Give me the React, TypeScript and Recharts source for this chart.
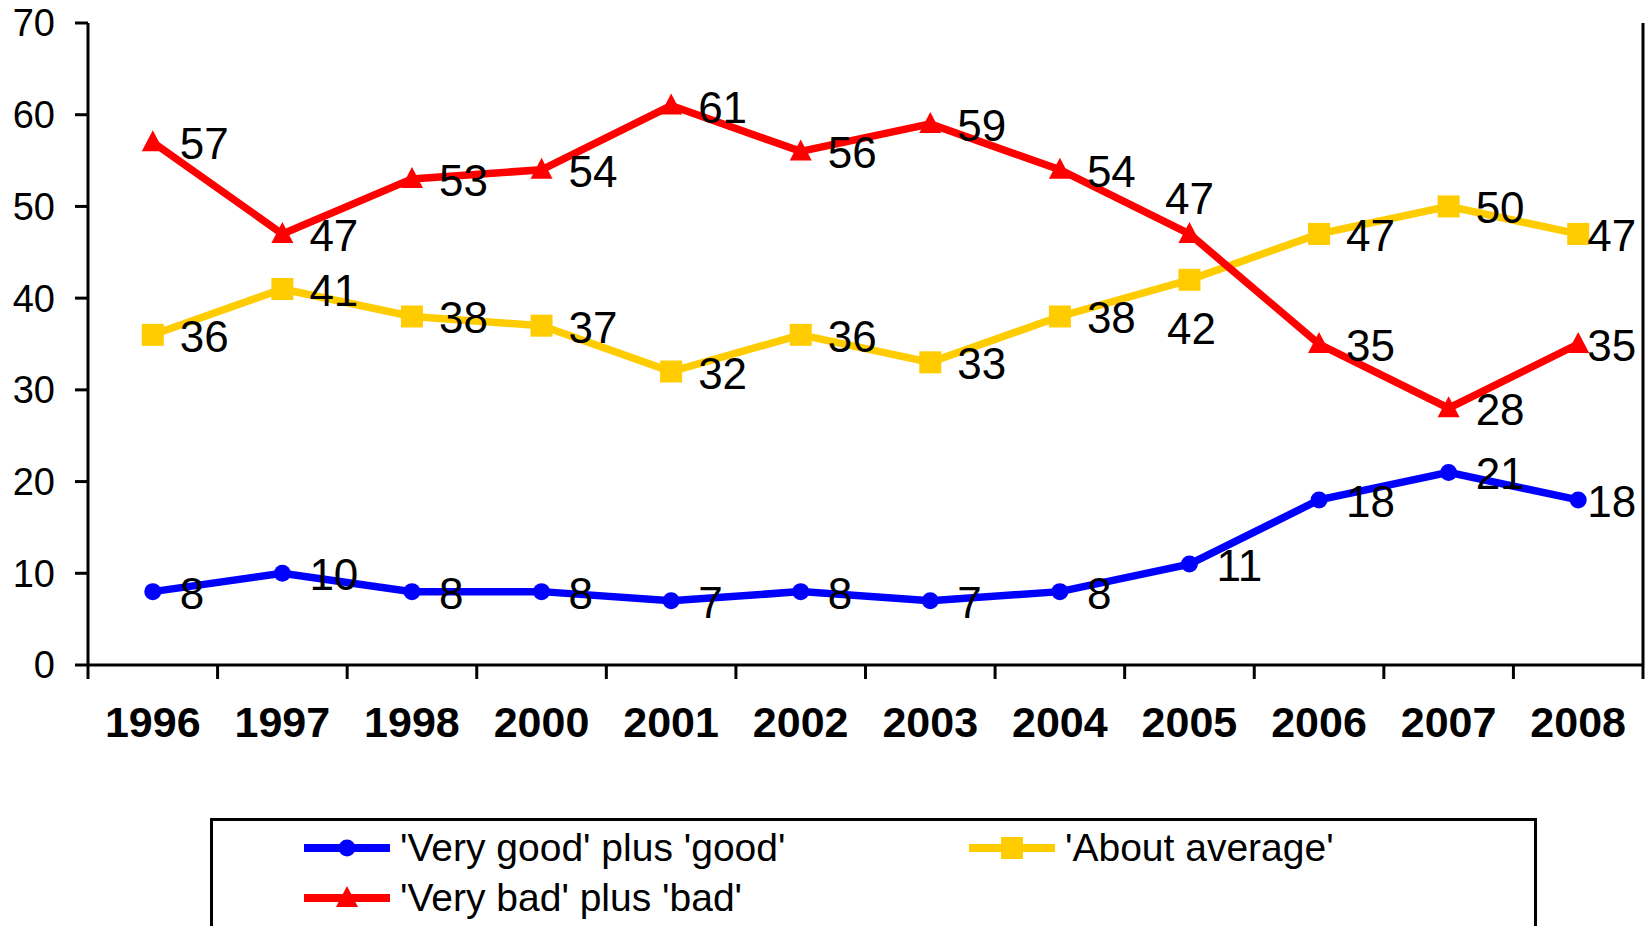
import { LabelList, Legend, Line, LineChart, XAxis, YAxis } from "recharts";

const years = ["1996", "1997", "1998", "2000", "2001", "2002", "2003", "2004", "2005", "2006", "2007", "2008"];
const goodShare = [8, 10, 8, 8, 7, 8, 7, 8, 11, 18, 21, 18];
const averageShare = [36, 41, 38, 37, 32, 36, 33, 38, 42, 47, 50, 47];
const badShare = [57, 47, 53, 54, 61, 56, 59, 54, 47, 35, 28, 35];
const yTicks = [0, 10, 20, 30, 40, 50, 60, 70];

const FONT = "'Liberation Sans', Arial, sans-serif";

const data = years.map((year, i) => ({
  year,
  good: goodShare[i],
  average: averageShare[i],
  bad: badShare[i],
}));

type Shape = "circle" | "square" | "triangle";

const series: { key: string; name: string; color: string; shape: Shape }[] = [
  { key: "good", name: "'Very good' plus 'good'", color: "#0000FF", shape: "circle" },
  { key: "average", name: "'About average'", color: "#FFCC00", shape: "square" },
  { key: "bad", name: "'Very bad' plus 'bad'", color: "#FF0000", shape: "triangle" },
];

// label placement tweaks (Excel moved a few labels by hand)
const labelTweaks: Record<string, Record<number, { dx: number; dy: number; anchor: string }>> = {
  average: { 8: { dx: 2, dy: 64, anchor: "middle" } },
  bad: { 8: { dx: 0, dy: -20, anchor: "middle" } },
};

function Marker({ cx, cy, shape, color }: { cx: number; cy: number; shape: Shape; color: string }) {
  if (shape === "circle") return <circle cx={cx} cy={cy} r={8.5} fill={color} />;
  if (shape === "square") return <rect x={cx - 11} y={cy - 11} width={22} height={22} fill={color} />;
  return <polygon points={`${cx},${cy - 12} ${cx + 11},${cy + 9} ${cx - 11},${cy + 9}`} fill={color} />;
}

function makeDot(shape: Shape, color: string) {
  return (props: any) => {
    const { cx, cy, index } = props;
    if (cx == null || cy == null) return <g key={index} />;
    return <Marker key={index} cx={cx} cy={cy} shape={shape} color={color} />;
  };
}

function makeLabel(key: string) {
  return (props: any) => {
    const x = props.viewBox?.x ?? props.x;
    const y = props.viewBox?.y ?? props.y;
    const index = props.index;
    const last = index === years.length - 1;
    const tweak = labelTweaks[key]?.[index] ?? { dx: last ? 9 : 27, dy: 17, anchor: "start" };
    return (
      <text
        x={x + tweak.dx}
        y={y + tweak.dy}
        textAnchor={tweak.anchor as any}
        fontSize={44}
        fontFamily={FONT}
        fill="#000"
      >
        {props.value}
      </text>
    );
  };
}

function YearTick(props: any) {
  const { x, y, payload, index } = props;
  const half = payload?.offset ?? 0;
  const last = index === years.length - 1;
  return (
    <g>
      <line x1={x - half} x2={x - half} y1={y - 14} y2={y} stroke="#000" strokeWidth={3} />
      {last && <line x1={x + half} x2={x + half} y1={y - 14} y2={y} stroke="#000" strokeWidth={3} />}
      <text x={x} y={y + 58} textAnchor="middle" fontSize={43} fontWeight="bold" fontFamily={FONT} fill="#000">
        {payload.value}
      </text>
    </g>
  );
}

function LegendBox() {
  return (
    <div
      style={{
        boxSizing: "border-box",
        width: "100%",
        height: "100%",
        borderTop: "3px solid #000",
        borderLeft: "3px solid #000",
        borderRight: "3px solid #000",
        display: "grid",
        gridTemplateColumns: "665px auto",
        gridAutoRows: "50px",
        paddingLeft: 91,
        paddingTop: 2,
        fontFamily: FONT,
        fontSize: 39,
        color: "#000",
      }}
    >
      {series.map((s) => (
        <div key={s.key} style={{ display: "flex", alignItems: "center", whiteSpace: "nowrap" }}>
          <svg width={86} height={30} style={{ marginRight: 10 }}>
            <line x1={0} x2={86} y1={15} y2={15} stroke={s.color} strokeWidth={8} />
            <Marker cx={43} cy={15} shape={s.shape} color={s.color} />
          </svg>
          <span>{s.name}</span>
        </div>
      ))}
    </div>
  );
}

export default function App() {
  return (
    <div style={{ position: "absolute", left: 0, top: 0, background: "#fff" }}>
      <LineChart width={1646} height={926} data={data} margin={{ top: 23, right: 2, bottom: 0, left: 0 }}>
        <XAxis
          xAxisId="top"
          orientation="top"
          dataKey="year"
          scale="band"
          height={0}
          tick={false}
          tickLine={false}
          axisLine={{ stroke: "#000", strokeWidth: 3 }}
        />
        <XAxis
          dataKey="year"
          scale="band"
          height={261}
          interval={0}
          tickSize={14}
          tickMargin={0}
          tickLine={false}
          tick={<YearTick />}
          axisLine={{ stroke: "#000", strokeWidth: 3 }}
        />
        <YAxis
          domain={[0, 70]}
          ticks={yTicks}
          width={88}
          tickSize={13}
          tickMargin={20}
          tick={{ fontSize: 38, fill: "#000", fontFamily: FONT }}
          tickLine={{ stroke: "#000", strokeWidth: 3 }}
          axisLine={{ stroke: "#000", strokeWidth: 3 }}
        />
        <YAxis
          yAxisId="right"
          orientation="right"
          domain={[0, 70]}
          ticks={yTicks}
          width={1}
          tick={false}
          tickLine={false}
          axisLine={{ stroke: "#000", strokeWidth: 3 }}
        />
        {series.map((s) => (
          <Line
            key={s.key}
            dataKey={s.key}
            name={s.name}
            stroke={s.color}
            strokeWidth={7.5}
            dot={makeDot(s.shape, s.color)}
            activeDot={false}
            isAnimationActive={false}
          >
            <LabelList dataKey={s.key} content={makeLabel(s.key)} />
          </Line>
        ))}
        <Legend
          layout="horizontal"
          verticalAlign="middle"
          align="center"
          content={<LegendBox />}
          wrapperStyle={{ position: "absolute", left: 210, top: 818, width: 1327, height: 108 }}
        />
      </LineChart>
    </div>
  );
}
